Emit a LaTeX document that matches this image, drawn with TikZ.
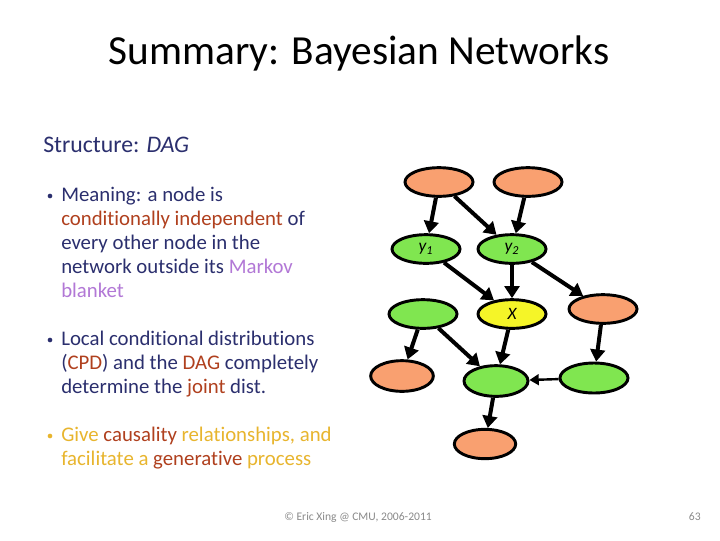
\documentclass[tikz,border=0pt]{standalone}
\usepackage{fontspec}
\setmainfont{Carlito}[Ligatures={NoCommon}]
\usetikzlibrary{arrows.meta,shapes.geometric}
\definecolor{navy}{HTML}{2B2F6E}
\definecolor{hred}{HTML}{B0401E}
\definecolor{hviolet}{HTML}{B278D6}
\definecolor{hgold}{HTML}{E8B52E}
\definecolor{nodeorange}{HTML}{F9A070}
\definecolor{nodegreen}{HTML}{80E650}
\definecolor{nodeyellow}{HTML}{F5F528}
\definecolor{footgray}{HTML}{8A8A8A}
\tikzset{
  bn/.style={ellipse, draw=black, line width=2.2pt, minimum width=51pt, minimum height=21.5pt, inner sep=0pt, font=\fontsize{13}{13}\selectfont\itshape},
  orn/.style={bn, fill=nodeorange},
  grn/.style={bn, fill=nodegreen},
  yln/.style={bn, fill=nodeyellow},
  edge/.style={draw=black, line width=3pt, -{Triangle[length=9pt,width=11pt]}},
  thinedge/.style={draw=black, line width=1.8pt, -{Triangle[length=7pt,width=8pt]}},
  txt/.style={anchor=base west, inner sep=0pt, font=\fontsize{15.6}{15.6}\selectfont, text=navy},
  bul/.style={circle, fill=#1, inner sep=0pt, minimum size=3.5pt},
}
\begin{document}
\begin{tikzpicture}[x=0.75pt,y=-0.75pt]
\useasboundingbox (0,0) rectangle (720,540);
\fill[white] (0,0) rectangle (720,540);
% title
\node[anchor=base, inner sep=0pt, font=\fontsize{31}{31}\selectfont] (title) at (359,64) {Summary: Bayesian Networks};
\node[anchor=base west, inner sep=0pt, font=\fontsize{17.8}{17.8}\selectfont, text=navy] (struct) at (43,152) {Structure: \textit{DAG}};
% bullet 1
\node[bul=navy] (b1) at (50,196) {};
\node[txt] (l1) at (61,201) {Meaning: a node is};
\node[txt] (l2) at (61,225) {\textcolor{hred}{conditionally independent} of};
\node[txt] (l3) at (61,249) {every other node in the};
\node[txt] (l4) at (61,273) {network outside its \textcolor{hviolet}{Markov}};
\node[txt] (l5) at (61,297) {\textcolor{hviolet}{blanket}};
% bullet 2
\node[bul=navy] (b2) at (50,340) {};
\node[txt] (m1) at (61,345) {Local conditional distributions};
\node[txt] (m2) at (61,369) {(\textcolor{hred}{CPD}) and the \textcolor{hred}{DAG} completely};
\node[txt] (m3) at (61,393) {determine the \textcolor{hred}{joint} dist.};
% bullet 3
\node[bul=hgold] (b3) at (50,436) {};
\node[txt, text=hgold] (n1) at (61,441) {Give \textcolor{hred}{causality} relationships, and};
\node[txt, text=hgold] (n2) at (61,465) {facilitate a \textcolor{hred}{generative} process};
% footer
\node[anchor=base west, inner sep=0pt, font=\fontsize{8.7}{8.7}\selectfont, text=footgray] (foot) at (284,520) {© Eric Xing @ CMU, 2006-2011};
\node[anchor=base east, inner sep=0pt, font=\fontsize{8.7}{8.7}\selectfont, text=footgray] (page) at (701,520) {63};
% graph nodes
\node[orn] (tl) at (439,182) {};
\node[orn] (tr) at (528,182) {};
\node[grn] (y1) at (426,249) {y\textsubscript{1}};
\node[grn] (y2) at (512,249) {y\textsubscript{2}};
\node[yln] (x) at (512,314) {X};
\node[orn] (ro) at (603,309) {};
\node[grn] (lg) at (423,314) {};
\node[orn, minimum width=47pt, minimum height=23pt] (lb) at (402,376) {};
\node[grn, minimum width=48pt, minimum height=23pt] (cb) at (496,381) {};
\node[grn, minimum height=22.5pt] (rb) at (594,378) {};
\node[orn, minimum width=46pt, minimum height=22pt] (bo) at (485,444) {};
% edges
\draw[edge] (tl) -- (y1);
\draw[edge] (tl) -- (y2);
\draw[edge] (tr) -- (y2);
\draw[edge] (y1) -- (x);
\draw[edge] (y2) -- (x);
\draw[edge] (y2) -- (ro);
\draw[edge] (lg) -- (lb);
\draw[edge] (lg) -- (cb);
\draw[edge] (x) -- (cb);
\draw[edge] (ro) -- (rb);
\draw[thinedge] (rb) -- (cb);
\draw[edge] (cb) -- (bo);
\end{tikzpicture}
\end{document}
